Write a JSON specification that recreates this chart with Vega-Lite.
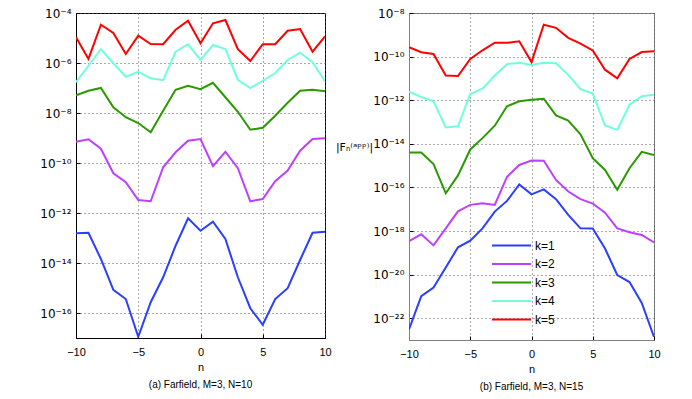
{
  "$schema": "https://vega.github.io/schema/vega-lite/v6.json",
  "padding": {"left": 39, "top": 6, "right": 0, "bottom": 0},
  "spacing": 2,
  "config": {
    "font": "Liberation Sans, Arial, sans-serif",
    "view": {"stroke": "#000000", "strokeWidth": 1},
    "axis": {
      "labelFontSize": 11, "labelColor": "#000000", "tickColor": "#000000", "domainColor": "#000000",
      "gridColor": "#555555", "gridDash": [1, 3], "gridOpacity": 1, "gridWidth": 1,
      "tickSize": -4, "labelPadding": 9, "titleFontWeight": "normal", "titleFontSize": 11, "titleColor": "#000000",
      "labelFlush": false
    },
    "axisX": {"labelPadding": 12},
    "axisY": {"labelFontSize": 12, "labelFont": "DejaVu Sans", "titleFont": "DejaVu Sans"},
    "title": {"fontSize": 10, "fontWeight": "normal", "color": "#000000"},
    "legend": {"labelFontSize": 12, "labelColor": "#000000"}
  },
  "datasets": {
    "a": [
      {"n":-10,"k":"k=1","F":1.55e-13},{"n":-9,"k":"k=1","F":1.62e-13},{"n":-8,"k":"k=1","F":1.45e-14},{"n":-7,"k":"k=1","F":8.51e-16},{"n":-6,"k":"k=1","F":3.63e-16},{"n":-5,"k":"k=1","F":1.12e-17},{"n":-4,"k":"k=1","F":2.69e-16},{"n":-3,"k":"k=1","F":2.69e-15},{"n":-2,"k":"k=1","F":4.9e-14},{"n":-1,"k":"k=1","F":6.17e-13},{"n":0,"k":"k=1","F":1.95e-13},{"n":1,"k":"k=1","F":4.47e-13},{"n":2,"k":"k=1","F":9.12e-14},{"n":3,"k":"k=1","F":2.69e-15},{"n":4,"k":"k=1","F":1.55e-16},{"n":5,"k":"k=1","F":3.39e-17},{"n":6,"k":"k=1","F":3.63e-16},{"n":7,"k":"k=1","F":9.77e-16},{"n":8,"k":"k=1","F":1.32e-14},{"n":9,"k":"k=1","F":1.62e-13},{"n":10,"k":"k=1","F":1.78e-13},
      {"n":-10,"k":"k=2","F":7.08e-10},{"n":-9,"k":"k=2","F":8.91e-10},{"n":-8,"k":"k=2","F":3.72e-10},{"n":-7,"k":"k=2","F":3.89e-11},{"n":-6,"k":"k=2","F":1.7e-11},{"n":-5,"k":"k=2","F":3.31e-12},{"n":-4,"k":"k=2","F":2.95e-12},{"n":-3,"k":"k=2","F":6.76e-11},{"n":-2,"k":"k=2","F":2.69e-10},{"n":-1,"k":"k=2","F":7.76e-10},{"n":0,"k":"k=2","F":9.12e-10},{"n":1,"k":"k=2","F":7.41e-11},{"n":2,"k":"k=2","F":2.82e-10},{"n":3,"k":"k=2","F":6.17e-11},{"n":4,"k":"k=2","F":2.95e-12},{"n":5,"k":"k=2","F":3.63e-12},{"n":6,"k":"k=2","F":1.86e-11},{"n":7,"k":"k=2","F":5.01e-11},{"n":8,"k":"k=2","F":3.09e-10},{"n":9,"k":"k=2","F":9.12e-10},{"n":10,"k":"k=2","F":9.77e-10},
      {"n":-10,"k":"k=3","F":5.13e-8},{"n":-9,"k":"k=3","F":7.76e-8},{"n":-8,"k":"k=3","F":1e-7},{"n":-7,"k":"k=3","F":1.7e-8},{"n":-6,"k":"k=3","F":6.76e-9},{"n":-5,"k":"k=3","F":3.98e-9},{"n":-4,"k":"k=3","F":1.7e-9},{"n":-3,"k":"k=3","F":1.23e-8},{"n":-2,"k":"k=3","F":8.51e-8},{"n":-1,"k":"k=3","F":1.23e-7},{"n":0,"k":"k=3","F":8.91e-8},{"n":1,"k":"k=3","F":1.62e-7},{"n":2,"k":"k=3","F":4.27e-8},{"n":3,"k":"k=3","F":1.12e-8},{"n":4,"k":"k=3","F":2.14e-9},{"n":5,"k":"k=3","F":2.57e-9},{"n":6,"k":"k=3","F":7.76e-9},{"n":7,"k":"k=3","F":2.57e-8},{"n":8,"k":"k=3","F":7.76e-8},{"n":9,"k":"k=3","F":8.51e-8},{"n":10,"k":"k=3","F":7.41e-8},
      {"n":-10,"k":"k=4","F":1.7e-7},{"n":-9,"k":"k=4","F":7.76e-7},{"n":-8,"k":"k=4","F":3.63e-6},{"n":-7,"k":"k=4","F":9.77e-7},{"n":-6,"k":"k=4","F":2.82e-7},{"n":-5,"k":"k=4","F":4.47e-7},{"n":-4,"k":"k=4","F":2.45e-7},{"n":-3,"k":"k=4","F":2.04e-7},{"n":-2,"k":"k=4","F":2.82e-6},{"n":-1,"k":"k=4","F":5.62e-6},{"n":0,"k":"k=4","F":1.32e-6},{"n":1,"k":"k=4","F":5.25e-6},{"n":2,"k":"k=4","F":3.63e-6},{"n":3,"k":"k=4","F":2.14e-7},{"n":4,"k":"k=4","F":1e-7},{"n":5,"k":"k=4","F":1.95e-7},{"n":6,"k":"k=4","F":3.98e-7},{"n":7,"k":"k=4","F":1.32e-6},{"n":8,"k":"k=4","F":2.57e-6},{"n":9,"k":"k=4","F":1.07e-6},{"n":10,"k":"k=4","F":1.86e-7},
      {"n":-10,"k":"k=5","F":1.07e-5},{"n":-9,"k":"k=5","F":1.45e-6},{"n":-8,"k":"k=5","F":3.39e-5},{"n":-7,"k":"k=5","F":1.58e-5},{"n":-6,"k":"k=5","F":2.29e-6},{"n":-5,"k":"k=5","F":1.23e-5},{"n":-4,"k":"k=5","F":5.75e-6},{"n":-3,"k":"k=5","F":5.62e-6},{"n":-2,"k":"k=5","F":2.14e-5},{"n":-1,"k":"k=5","F":4.9e-5},{"n":0,"k":"k=5","F":6.17e-6},{"n":1,"k":"k=5","F":3.89e-5},{"n":2,"k":"k=5","F":5.25e-5},{"n":3,"k":"k=5","F":3.55e-6},{"n":4,"k":"k=5","F":1.2e-6},{"n":5,"k":"k=5","F":5.62e-6},{"n":6,"k":"k=5","F":5.62e-6},{"n":7,"k":"k=5","F":1.95e-5},{"n":8,"k":"k=5","F":2.29e-5},{"n":9,"k":"k=5","F":2.82e-6},{"n":10,"k":"k=5","F":1.17e-5}
    ],
    "b": [
      {"n":-10,"k":"k=1","F":3.09e-23},{"n":-9,"k":"k=1","F":1.02e-21},{"n":-8,"k":"k=1","F":2.57e-21},{"n":-7,"k":"k=1","F":2.14e-20},{"n":-6,"k":"k=1","F":1.78e-19},{"n":-5,"k":"k=1","F":3.63e-19},{"n":-4,"k":"k=1","F":1.32e-18},{"n":-3,"k":"k=1","F":7.76e-18},{"n":-2,"k":"k=1","F":2.4e-17},{"n":-1,"k":"k=1","F":1.38e-16},{"n":0,"k":"k=1","F":4.79e-17},{"n":1,"k":"k=1","F":8.13e-17},{"n":2,"k":"k=1","F":2.88e-17},{"n":3,"k":"k=1","F":5.5e-18},{"n":4,"k":"k=1","F":1.32e-18},{"n":5,"k":"k=1","F":1.29e-18},{"n":6,"k":"k=1","F":1.58e-19},{"n":7,"k":"k=1","F":9.55e-21},{"n":8,"k":"k=1","F":4.57e-21},{"n":9,"k":"k=1","F":5.01e-22},{"n":10,"k":"k=1","F":1.38e-23},
      {"n":-10,"k":"k=2","F":3.47e-19},{"n":-9,"k":"k=2","F":7.08e-19},{"n":-8,"k":"k=2","F":2.19e-19},{"n":-7,"k":"k=2","F":1.32e-18},{"n":-6,"k":"k=2","F":7.94e-18},{"n":-5,"k":"k=2","F":1.58e-17},{"n":-4,"k":"k=2","F":1.86e-17},{"n":-3,"k":"k=2","F":1.58e-17},{"n":-2,"k":"k=2","F":3.02e-16},{"n":-1,"k":"k=2","F":1.07e-15},{"n":0,"k":"k=2","F":1.7e-15},{"n":1,"k":"k=2","F":1.66e-15},{"n":2,"k":"k=2","F":2.19e-16},{"n":3,"k":"k=2","F":6.46e-17},{"n":4,"k":"k=2","F":2.88e-17},{"n":5,"k":"k=2","F":1.82e-17},{"n":6,"k":"k=2","F":6.92e-18},{"n":7,"k":"k=2","F":1.32e-18},{"n":8,"k":"k=2","F":8.71e-19},{"n":9,"k":"k=2","F":6.61e-19},{"n":10,"k":"k=2","F":3.02e-19},
      {"n":-10,"k":"k=3","F":3.98e-15},{"n":-9,"k":"k=3","F":3.98e-15},{"n":-8,"k":"k=3","F":1.17e-15},{"n":-7,"k":"k=3","F":5.37e-17},{"n":-6,"k":"k=3","F":3.55e-16},{"n":-5,"k":"k=3","F":5.5e-15},{"n":-4,"k":"k=3","F":1.82e-14},{"n":-3,"k":"k=3","F":6.76e-14},{"n":-2,"k":"k=3","F":5.25e-13},{"n":-1,"k":"k=3","F":8.91e-13},{"n":0,"k":"k=3","F":1.05e-12},{"n":1,"k":"k=3","F":1.17e-12},{"n":2,"k":"k=3","F":2.0e-13},{"n":3,"k":"k=3","F":1.15e-13},{"n":4,"k":"k=3","F":2.75e-14},{"n":5,"k":"k=3","F":2.19e-15},{"n":6,"k":"k=3","F":6.31e-16},{"n":7,"k":"k=3","F":7.76e-17},{"n":8,"k":"k=3","F":7.59e-16},{"n":9,"k":"k=3","F":4.27e-15},{"n":10,"k":"k=3","F":3.09e-15},
      {"n":-10,"k":"k=4","F":2.45e-12},{"n":-9,"k":"k=4","F":1.41e-12},{"n":-8,"k":"k=4","F":8.91e-13},{"n":-7,"k":"k=4","F":5.62e-14},{"n":-6,"k":"k=4","F":6.31e-14},{"n":-5,"k":"k=4","F":1.91e-12},{"n":-4,"k":"k=4","F":3.39e-12},{"n":-3,"k":"k=4","F":1.35e-11},{"n":-2,"k":"k=4","F":4.47e-11},{"n":-1,"k":"k=4","F":5.25e-11},{"n":0,"k":"k=4","F":4.17e-11},{"n":1,"k":"k=4","F":5.25e-11},{"n":2,"k":"k=4","F":4.9e-11},{"n":3,"k":"k=4","F":1.45e-11},{"n":4,"k":"k=4","F":3.24e-12},{"n":5,"k":"k=4","F":2.0e-12},{"n":6,"k":"k=4","F":6.92e-14},{"n":7,"k":"k=4","F":4.37e-14},{"n":8,"k":"k=4","F":6.17e-13},{"n":9,"k":"k=4","F":1.51e-12},{"n":10,"k":"k=4","F":1.78e-12},
      {"n":-10,"k":"k=5","F":2.69e-10},{"n":-9,"k":"k=5","F":1.58e-10},{"n":-8,"k":"k=5","F":1.32e-10},{"n":-7,"k":"k=5","F":1.35e-11},{"n":-6,"k":"k=5","F":1.29e-11},{"n":-5,"k":"k=5","F":7.76e-11},{"n":-4,"k":"k=5","F":1.95e-10},{"n":-3,"k":"k=5","F":4.37e-10},{"n":-2,"k":"k=5","F":4.27e-10},{"n":-1,"k":"k=5","F":5.01e-10},{"n":0,"k":"k=5","F":5.62e-11},{"n":1,"k":"k=5","F":2.88e-9},{"n":2,"k":"k=5","F":2.09e-9},{"n":3,"k":"k=5","F":7.24e-10},{"n":4,"k":"k=5","F":3.98e-10},{"n":5,"k":"k=5","F":1.91e-10},{"n":6,"k":"k=5","F":2.51e-11},{"n":7,"k":"k=5","F":1e-11},{"n":8,"k":"k=5","F":7.76e-11},{"n":9,"k":"k=5","F":1.62e-10},{"n":10,"k":"k=5","F":1.78e-10}
    ]
  },
  "resolve": {"scale": {"color": "independent"}},
  "hconcat": [
    {
      "width": 249, "height": 325,
      "data": {"name": "a"},
      "title": {"text": "(a) Farfield, M=3, N=10", "orient": "bottom", "offset": 8},
      "mark": {"type": "line", "strokeWidth": 2, "clip": true},
      "encoding": {
        "x": {"field": "n", "type": "quantitative", "scale": {"domain": [-10, 10], "nice": false},
              "axis": {"values": [-10, -5, 0, 5, 10], "title": "n", "titlePadding": 4}},
        "y": {"field": "F", "type": "quantitative",
              "scale": {"type": "log", "domain": [1e-17, 1e-4], "nice": false},
              "axis": {"values": [1e-16, 1e-14, 1e-12, 1e-10, 1e-8, 1e-6, 1e-4], "title": null,
                       "labelExpr": "'10⁻' + (-round(log(datum.value)/LN10) >= 10 ? ['⁰','¹','²','³','⁴','⁵','⁶','⁷','⁸','⁹'][floor(-round(log(datum.value)/LN10)/10)] : '') + ['⁰','¹','²','³','⁴','⁵','⁶','⁷','⁸','⁹'][(-round(log(datum.value)/LN10)) % 10]"}},
        "color": {"field": "k", "type": "nominal",
                  "scale": {"domain": ["k=1", "k=2", "k=3", "k=4", "k=5"], "range": ["#2a3fff", "#bf3fff", "#2a9a00", "#70ffdd", "#ff0000"]},
                  "legend": null}
      }
    },
    {
      "width": 245, "height": 327,
      "view": {"stroke": "#808080"},
      "data": {"name": "b"},
      "title": {"text": "(b) Farfield, M=3, N=15", "orient": "bottom", "offset": 8},
      "mark": {"type": "line", "strokeWidth": 2, "clip": true},
      "encoding": {
        "x": {"field": "n", "type": "quantitative", "scale": {"domain": [-10, 10], "nice": false},
              "axis": {"values": [-10, -5, 0, 5, 10], "title": "n", "titlePadding": 4, "domainColor": "#808080"}},
        "y": {"field": "F", "type": "quantitative",
              "scale": {"type": "log", "domain": [1e-23, 1e-8], "nice": false},
              "axis": {"values": [1e-22, 1e-20, 1e-18, 1e-16, 1e-14, 1e-12, 1e-10, 1e-8], "domainColor": "#808080",
                       "title": "|Fₙ⁽ᵃᵖᵖ⁾|", "titleAngle": 0, "titleAlign": "center", "titleBaseline": "middle",
                       "titleX": -55, "titleY": 134, "titleFontSize": 11,
                       "labelExpr": "'10⁻' + (-round(log(datum.value)/LN10) >= 10 ? ['⁰','¹','²','³','⁴','⁵','⁶','⁷','⁸','⁹'][floor(-round(log(datum.value)/LN10)/10)] : '') + ['⁰','¹','²','³','⁴','⁵','⁶','⁷','⁸','⁹'][(-round(log(datum.value)/LN10)) % 10]"}},
        "color": {"field": "k", "type": "nominal",
                  "scale": {"domain": ["k=1", "k=2", "k=3", "k=4", "k=5"], "range": ["#2a3fff", "#bf3fff", "#2a9a00", "#70ffdd", "#ff0000"]},
                  "legend": {"title": null, "orient": "none", "legendX": 95, "legendY": 225, "padding": 0,
                             "symbolType": "M-3,0H3", "symbolSize": 169, "symbolStrokeWidth": 2,
                             "labelOffset": 16, "rowPadding": 4.5}}
      }
    }
  ]
}
